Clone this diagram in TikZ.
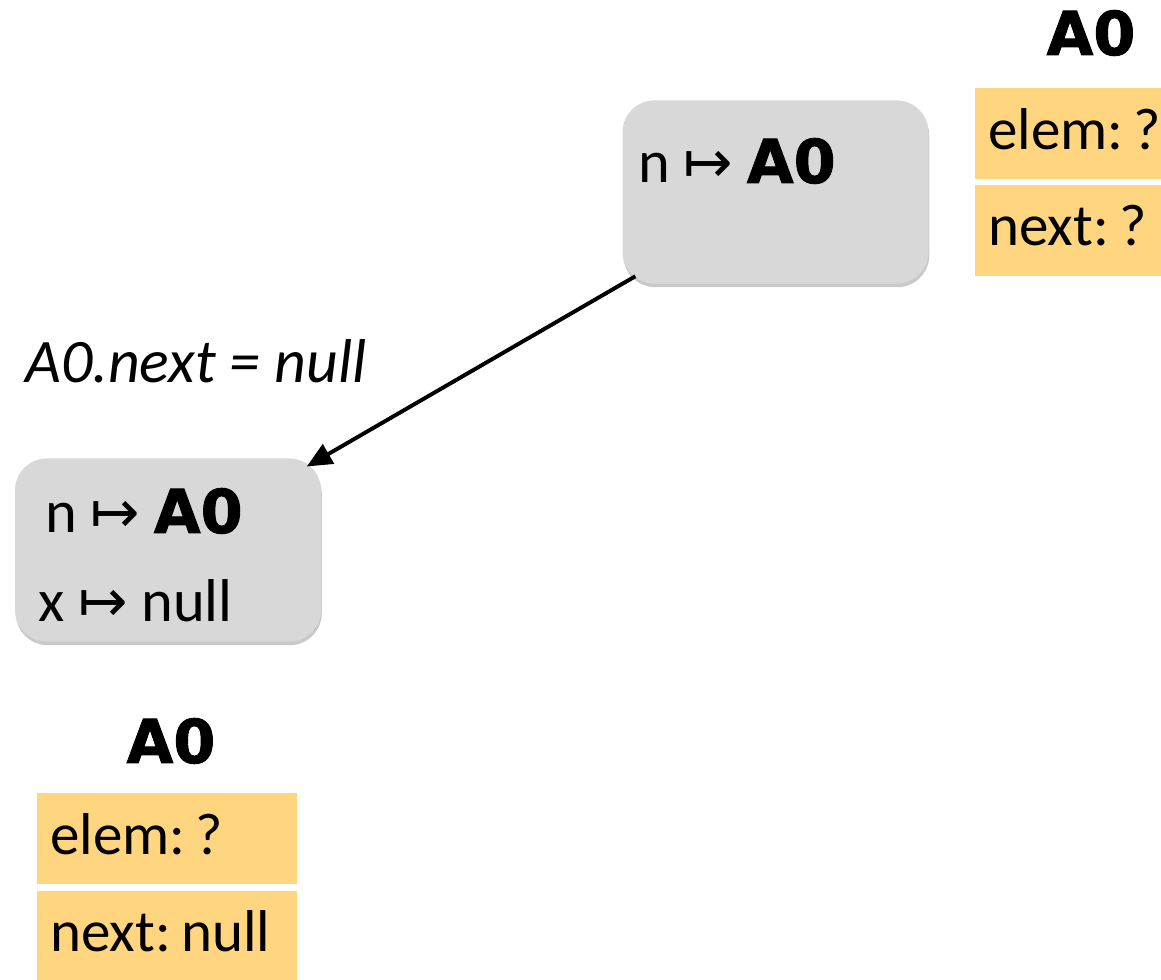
\documentclass[tikz,border=0pt]{standalone}
\usepackage{fontspec}
\setmainfont{Carlito}
\newfontfamily\fieldfont{Carlito}[WordSpace=0.4]
\newfontfamily\heavyfont{DejaVu Sans}[BoldFeatures={FakeBold=1.5}]
\newfontfamily\symbfont{DejaVu Sans}
\usepackage{xcolor}
\usetikzlibrary{arrows.meta, positioning, shadows}
\frenchspacing

\definecolor{envgray}{HTML}{D8D8D8}
\definecolor{heapyellow}{HTML}{FFD57F}
\newcommand{\heavy}[1]{{\heavyfont\bfseries\fontsize{43}{43}\selectfont #1}}
\newcommand{\mapsarrow}{{\symbfont\fontsize{42}{42}\selectfont ↦}}
\newcommand{\fieldsep}{\kern-0.16em\ }

\begin{document}
\begin{tikzpicture}[
    env/.style={rectangle, fill=envgray, minimum width=7.65cm, minimum height=4.58cm, rounded corners=0.8cm, drop shadow={shadow xshift=0.02cm, shadow yshift=-0.09cm, opacity=0.3, fill=black!70}},
    binding/.style={anchor=base west, inner sep=0pt, font=\fontsize{43}{43}\selectfont},
    objname/.style={anchor=base, inner sep=0pt, font=\heavyfont\bfseries\fontsize{43}{43}\selectfont},
    field/.style={rectangle, fill=heapyellow, minimum height=2.28cm, text width=5.85cm, inner xsep=0.325cm, text height=0.76cm, text depth=0pt, align=left, font=\fieldfont\fontsize{42}{42}\selectfont},
    step arrow/.style={-{Triangle[length=0.63cm, width=0.55cm]}, line width=2.8pt, shorten <=-0.38cm, shorten >=-0.42cm}
]
    \clip (0,0) rectangle (29.025,24.5);

    \coordinate (before) at (19.3875,19.7);
    \coordinate (after) at (4.2,10.75);

    % State before
    \node (envbefore) [env] at (before) {};
    \node (nbefore) [binding] at (15.95,19.925) {n \mapsarrow\ \heavy{A0}};

    % Heap before (Right)
    \node (objbefore) [objname] at (27.275,23.125) {A0};
    \node (elembefore) [field, anchor=north west] at (24.375,22.3) {elem:\fieldsep?};
    \node (nextbefore) [field, below=0.125cm of elembefore] {next:\fieldsep?};

    % State after
    \node (envafter) [env] at (after) {};
    \node (nafter) [binding] at (1.125,11.175) {n \mapsarrow\ \heavy{A0}};
    \node (xafter) [binding] at (0.95,8.95) {x \mapsarrow\ null};

    % Heap after (Bottom)
    \node (objafter) [objname] at (4.275,5.425) {A0};
    \node (elemafter) [field, anchor=north west] at (0.925,4.675) {elem:\fieldsep?};
    \node (nextafter) [field, below=0.15cm of elemafter] {next:\fieldsep null};

    % Statement
    \draw[step arrow] (envbefore.south west) -- (envafter.north east);
    \node (stmt) [binding, font=\itshape\fontsize{44}{44}\selectfont] at (0.625,14.925) {A0.next = null};

\end{tikzpicture}
\end{document}
